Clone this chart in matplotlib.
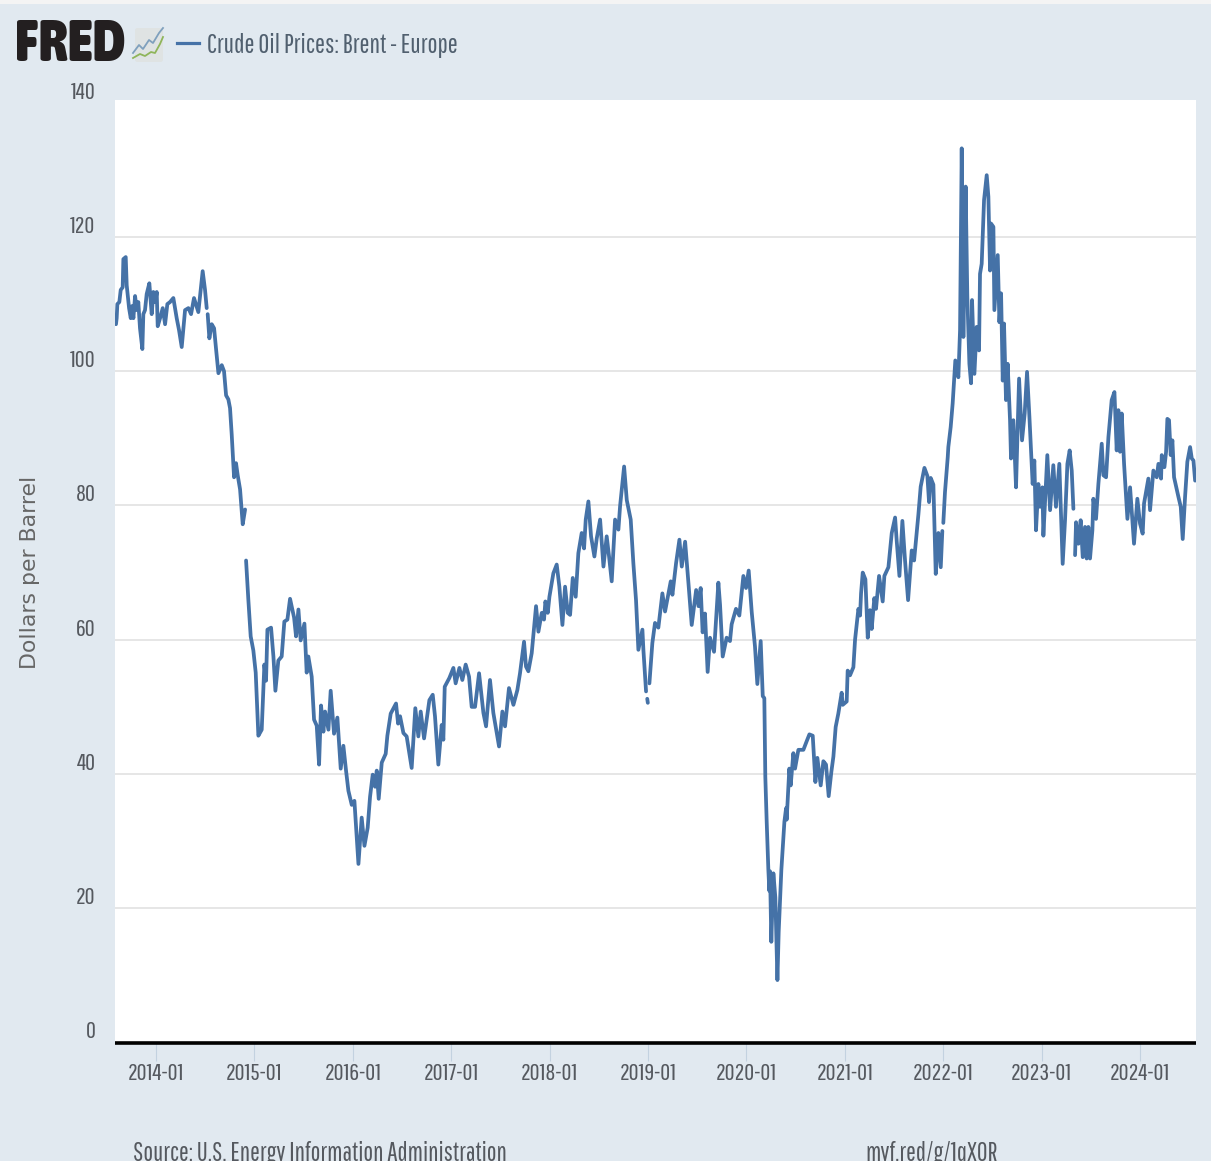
import matplotlib
matplotlib.use("Agg")
import logging
logging.getLogger('matplotlib.font_manager').setLevel(logging.ERROR)
import matplotlib.pyplot as plt
from matplotlib.patches import Rectangle, FancyBboxPatch
from matplotlib.lines import Line2D
from matplotlib.transforms import ScaledTranslation

plt.rcParams['font.family'] = ['Pathway Gothic One', 'Fira Sans Extra Condensed', 'PT Sans Narrow', 'Barlow Condensed', 'Liberation Sans', 'DejaVu Sans']

# Decimal-year / price readings, one pair of lists per unbroken stretch of the series
years_2013 = [2013.593,2013.600,2013.607,2013.627,2013.641,2013.661,2013.668,2013.692,2013.702,2013.726,2013.743,2013.756,2013.770,2013.787,2013.804,2013.820,2013.837,2013.861,2013.871,2013.888,2013.905,2013.932,2013.956,2013.973,2013.993,2014.007,2014.017,2014.041,2014.068,2014.092,2014.115,2014.142,2014.176,2014.210,2014.234,2014.261,2014.295,2014.329,2014.356,2014.386,2014.430,2014.474,2014.498,2014.515]
price_2013 = [107,107.9,110.0,110.3,112.1,112.5,116.7,117.0,112.8,109.4,107.9,109.7,107.9,111.2,109.1,110.3,106.4,103.3,108.5,109.1,111.5,113.1,108.5,111.8,110.3,111.8,106.7,107.9,109.4,107.0,110.0,110.3,110.9,107.9,106.1,103.6,109.1,109.4,108.5,110.9,108.8,114.9,112.1,109.4]

years_2014 = [2014.525,2014.542,2014.566,2014.590,2014.610,2014.634,2014.668,2014.691,2014.712,2014.735,2014.752,2014.769,2014.793,2014.813,2014.830,2014.854,2014.881,2014.905]
price_2014 = [108.5,104.9,107.0,106.4,103.3,99.7,100.9,100.0,96.4,95.8,94.5,90.6,84.2,86.3,84.5,82.4,77.2,79.4]

years_2015 = [2014.915,2014.938,2014.962,2014.989,2015.013,2015.040,2015.074,2015.101,2015.118,2015.132,2015.169,2015.193,2015.213,2015.243,2015.277,2015.304,2015.335,2015.362,2015.403,2015.423,2015.447,2015.470,2015.508,2015.531,2015.548,2015.582,2015.606,2015.633,2015.657,2015.677,2015.701,2015.718,2015.752,2015.775,2015.809,2015.843,2015.877,2015.904,2015.931,2015.955,2015.989,2016.016,2016.057,2016.090,2016.118,2016.151,2016.175,2016.202,2016.226,2016.243,2016.263,2016.294,2016.334,2016.351,2016.385,2016.439,2016.460,
 2016.480,2016.514,2016.547,2016.598,2016.635,2016.666,2016.690,2016.724,2016.778,2016.812,2016.835,2016.869,2016.903,2016.920,2016.934,2016.981,2017.022,2017.045,2017.083,2017.113,2017.147,2017.181,2017.208,2017.242,2017.283,2017.327,2017.354,2017.394,2017.428,2017.486,2017.520,2017.547,2017.587,2017.632,2017.672,2017.699,2017.740,2017.760,2017.784,2017.818,2017.862,2017.886,2017.920,2017.943,2017.957,2017.981,2017.998,2018.038,2018.072,2018.099,2018.130,2018.157,2018.184,2018.208,2018.235,2018.265,2018.292,2018.326,2018.350,2018.367,2018.394,2018.421,2018.455,2018.479,2018.513,2018.547,2018.580,2018.604,2018.631,2018.665,2018.699,2018.716,2018.757,2018.784,2018.824,2018.851,2018.878,2018.902,2018.943,2018.953,2018.980]
price_2015 = [71.8,66.0,60.5,58.4,55.1,45.7,46.6,56.3,53.9,61.5,61.8,57.5,52.4,56.9,57.5,62.7,63.0,66.1,63.3,60.5,64.5,59.9,62.4,55.1,57.5,54.5,48.1,47.2,41.4,50.2,46.3,49.3,46.6,52.4,46.0,48.4,40.8,44.2,40.5,37.5,35.4,36.0,26.6,33.5,29.3,32.0,36.6,39.9,38.1,40.5,36.3,41.7,43.0,45.7,49.0,50.5,47.5,
 48.6,46.1,45.6,40.9,49.8,45.6,49.3,45.3,51.0,51.8,48.6,41.4,47.3,45.1,53.0,54.3,55.8,53.5,55.8,54.0,56.3,54.5,50.0,50.0,55.0,49.1,47.1,54.0,49.1,44.1,49.3,47.1,52.8,50.3,52.5,55.0,59.7,56.0,55.3,58.0,65.0,61.2,64.0,63.0,65.7,64.0,66.4,69.9,71.2,67.9,62.2,67.9,64.0,63.7,69.2,66.4,72.9,75.9,73.6,77.9,80.6,75.4,72.4,75.1,77.9,70.9,75.4,72.4,68.7,77.9,76.4,79.9,85.8,80.8,77.9,71.4,65.9,58.5,61.5,58.5,52.3]

years_dot = [2018.992,2018.998]
price_dot = [51.2,50.6]

years_2019 = [2019.014,2019.044,2019.071,2019.105,2019.146,2019.173,2019.231,2019.248,2019.285,2019.319,2019.343,2019.377,2019.411,2019.444,2019.489,2019.513,2019.535,2019.555,2019.579,2019.606,2019.630,2019.671,2019.715,2019.732,2019.759,2019.799,2019.833,2019.850,2019.894,2019.928,2019.969,2019.996,2020.023,2020.054,2020.087,2020.111,2020.145,2020.166,2020.182,2020.192,2020.206,2020.223,2020.233,2020.240,2020.253,2020.274,2020.294,2020.315,2020.328,2020.355,2020.386,2020.403,2020.409,2020.436,2020.450,2020.477,2020.494,2020.528,2020.579,2020.613,2020.640,2020.674,2020.701,2020.721,2020.755,2020.782,2020.809,2020.836,2020.863,2020.884,2020.907,2020.934,2020.968,2020.979,2021.019,2021.029,2021.053,2021.087,2021.104,2021.138,2021.155,2021.165,2021.182,2021.209,2021.233,2021.256,2021.273,2021.300,2021.317,2021.348,2021.385,2021.402,2021.443,2021.477,2021.511,2021.528,2021.555,2021.585,2021.612,2021.643,2021.680,2021.704,2021.748,2021.771,2021.809,2021.839,2021.856,2021.873,2021.900,2021.924,2021.951,2021.975,2021.991]
price_2019 = [53.5,59.5,62.5,61.8,66.9,64.2,68.7,66.7,71.4,74.9,70.9,74.6,68.4,62.2,67.4,65.0,67.7,61.1,63.9,55.2,60.3,58.2,68.5,65.2,57.5,60.3,59.8,62.3,64.6,63.6,69.5,67.7,70.3,64.1,59.0,53.4,59.8,51.6,51.3,39.6,32.9,25.7,22.6,25.5,15.0,25.2,21.6,9.3,16.5,25.7,32.9,34.9,33.2,40.8,38.3,43.1,40.8,43.6,43.6,44.9,45.9,45.7,38.8,42.4,38.3,41.9,41.4,36.7,40.3,42.6,47.0,49.0,52.1,50.3,50.8,55.4,54.7,55.9,60.0,64.6,63.6,66.9,70.0,69.0,60.3,64.4,61.6,66.2,64.6,69.5,65.7,69.5,70.8,75.9,78.2,74.6,69.5,77.7,71.8,65.9,73.3,71.8,78.7,82.8,85.6,84.4,80.5,84.1,83.1,69.8,75.9,70.8,76.2]

years_2022 = [2022.001,2022.018,2022.046,2022.052,2022.076,2022.096,2022.123,2022.154,2022.171,2022.188,2022.205,2022.228,2022.245,2022.266,2022.283,2022.293,2022.317,2022.340,2022.364,2022.374,2022.391,2022.415,2022.442,2022.459,2022.476,2022.486,2022.510,2022.520,2022.554,2022.571,2022.588,2022.605,2022.618,2022.638,2022.655,2022.679,2022.689,2022.713,2022.740,2022.754,2022.771,2022.801,2022.828,2022.852,2022.876,2022.899,2022.909,2022.926,2022.943,2022.967,2022.984,2023.008,2023.018,2023.058,2023.086,2023.119,2023.146,2023.180,2023.214,2023.238,2023.262,2023.285,2023.306,2023.323]
price_2022 = [77.4,82.0,87.2,88.7,91.7,95.2,101.6,99.1,106.1,133.2,105.1,127.5,111.1,101.1,98.2,110.6,99.6,106.6,103.1,114.5,116.0,125.5,129.2,126.0,115.0,122.0,121.5,109.1,117.3,107.3,111.6,98.6,107.1,95.7,101.1,92.7,87.0,92.7,82.7,90.2,98.9,89.7,93.7,99.9,93.2,86.2,83.2,86.7,76.3,83.2,79.8,82.7,75.5,87.5,79.3,86.0,79.8,86.2,71.3,77.8,86.2,88.2,85.2,79.5]

years_2023 = [2023.340,2023.350,2023.374,2023.397,2023.418,2023.441,2023.458,2023.475,2023.492,2023.516,2023.526,2023.553,2023.577,2023.611,2023.628,2023.655,2023.665,2023.679,2023.712,2023.740,2023.763,2023.780,2023.797,2023.814,2023.838,2023.872,2023.899,2023.939,2023.973,2024.000,2024.027,2024.041,2024.085,2024.102,2024.136,2024.170,2024.187,2024.214,2024.221,2024.248,2024.265,2024.278,2024.295,2024.312,2024.329,2024.346,2024.390,2024.414,2024.434,2024.458,2024.481,2024.509,2024.526,2024.543,2024.560]
price_2023 = [72.6,77.5,74.3,77.8,72.3,76.8,72.1,76.8,72.1,76.3,81.0,78.0,83.2,89.2,84.5,84.2,86.7,90.2,95.7,96.9,88.2,94.2,88.0,93.7,86.2,78.0,82.7,74.3,81.0,77.3,75.8,80.3,84.0,79.3,85.2,84.2,86.2,84.0,87.5,85.7,88.0,92.9,92.7,87.5,89.7,84.2,81.3,79.8,75.0,81.3,86.5,88.7,87.0,86.7,83.7]

stretches = [(years_2013, price_2013), (years_2014, price_2014), (years_2015, price_2015),
             (years_dot, price_dot), (years_2019, price_2019), (years_2022, price_2022),
             (years_2023, price_2023)]

y_ticks = [0, 20, 40, 60, 80, 100, 120, 140]
x_tick_years = [2014, 2015, 2016, 2017, 2018, 2019, 2020, 2021, 2022, 2023, 2024]
x_tick_labels = ['2014-01', '2015-01', '2016-01', '2017-01', '2018-01', '2019-01',
                 '2020-01', '2021-01', '2022-01', '2023-01', '2024-01']
series_name = 'Crude Oil Prices: Brent - Europe'

W, H = 1211, 1161
BG = '#e1e9f0'
BLUE = '#4572a7'
TXT = '#55595f'

fig = plt.figure(figsize=(W/100, H/100), dpi=100, facecolor=BG)
def fx(x): return x / W
def fy(y): return 1 - y / H

ax = fig.add_axes([fx(115), fy(1042.5), (1196-115)/W, (1042.5-100)/H], facecolor='white')
for yrs, vals in stretches:
    ax.plot(yrs, vals, color=BLUE, lw=2.7, solid_joinstyle='round', solid_capstyle='round', zorder=3)

ax.set_xlim(2013.583, 2024.569)
ax.set_ylim(0, 140.4)
for s in ['top', 'left', 'right']:
    ax.spines[s].set_visible(False)
ax.spines['bottom'].set_color('black')
ax.spines['bottom'].set_linewidth(2.6)
ax.spines['bottom'].set_capstyle('butt')
ax.spines['bottom'].set_zorder(5)

ax.set_yticks(y_ticks)
ax.set_yticklabels([str(v) for v in y_ticks])
ax.set_xticks(x_tick_years)
ax.set_xticklabels(x_tick_labels)
ax.tick_params(axis='y', length=0, pad=14, labelsize=17.5, labelcolor=TXT)
ax.tick_params(axis='x', length=13, width=0.8, color='#c3d2e0', pad=2, labelsize=17.5, labelcolor=TXT)
ax.grid(axis='y', color='#e6e6e6', lw=1.4, zorder=1)
ax.set_axisbelow(True)
ax.yaxis.get_gridlines()[-1].set_visible(False)
ax.yaxis.get_gridlines()[0].set_visible(False)
shift = ScaledTranslation(0, 12.5/100, fig.dpi_scale_trans)
for lab in ax.get_yticklabels():
    lab.set_transform(lab.get_transform() + shift)

fig.text(fx(30), fy(572), 'Dollars per Barrel', rotation=90, ha='center', va='center',
         fontsize=15.8, color='#666666', family='DejaVu Sans')

# top strip
fig.patches.append(Rectangle((0, fy(4)), 1, 4/H, transform=fig.transFigure, facecolor='#f4f4f4', edgecolor='none'))

# FRED logo
logo = fig.text(fx(15), fy(45), 'FRED', ha='left', va='center', fontsize=42, fontweight=900,
                color='#231f20', family=['Asap Condensed', 'Barlow Condensed', 'Liberation Sans'])
fig.patches.append(FancyBboxPatch((fx(135), fy(62)), 28/W, 34/H, boxstyle='round,pad=0,rounding_size=0.002',
                                  transform=fig.transFigure, facecolor='#dfe3e3', edgecolor='none'))
fig.add_artist(Line2D([fx(x) for x in (133, 139, 143, 149, 153, 159, 163)],
                      [fy(y) for y in (53, 45, 49, 40, 43, 33, 28)],
                      color='#7fa0bd', lw=1.3, transform=fig.transFigure))
fig.add_artist(Line2D([fx(x) for x in (133, 140, 145, 151, 155, 160, 163)],
                      [fy(y) for y in (58, 54, 56, 52, 53, 44, 37)],
                      color='#8fb55a', lw=1.3, transform=fig.transFigure))
fig.add_artist(Line2D([fx(177), fx(199)], [fy(43), fy(43)], color=BLUE, lw=2.3, transform=fig.transFigure))
fig.text(fx(207), fy(46), series_name, ha='left', va='center', fontsize=19.2, color='#51606f')

fig.text(fx(133), fy(1153), 'Source: U.S. Energy Information Administration', ha='left', va='center',
         fontsize=18.7, color=TXT)
fig.text(fx(865), fy(1153), 'myf.red/g/1qX0R', ha='left', va='center', fontsize=18.7, color=TXT)

fig.savefig('out.png', dpi=100, facecolor=BG)
